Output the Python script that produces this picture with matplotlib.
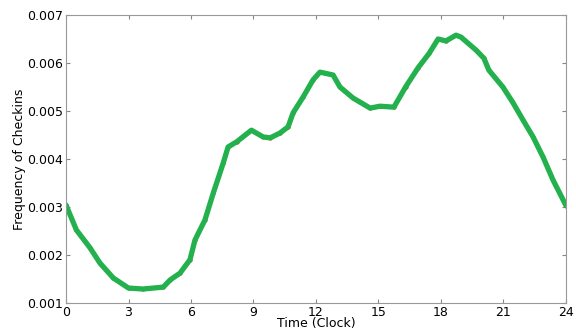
import matplotlib
matplotlib.use('Agg')
import matplotlib.pyplot as plt

# hour of day and checkin frequency
hours = [0.0, 0.5, 1.15, 1.63, 2.27, 3.0, 3.7, 4.67, 5.0, 5.47, 5.95, 6.19,
         6.67, 7.07, 7.55, 7.78, 8.2, 8.9, 9.46, 9.8, 10.27, 10.66, 10.9,
         11.38, 11.86, 12.19, 12.82, 13.15, 13.78, 14.6, 15.07, 15.74, 16.3,
         16.9, 17.43, 17.86, 18.24, 18.72, 18.96, 19.68, 20.06, 20.3, 20.97,
         21.46, 21.94, 22.42, 22.9, 23.38, 24.0]
freq = [0.00304, 0.00252, 0.00215, 0.00183, 0.00152, 0.00131, 0.00129,
        0.00133, 0.00148, 0.00162, 0.00190, 0.00231, 0.00273, 0.00329,
        0.00392, 0.00425, 0.00436, 0.00460, 0.00446, 0.00444, 0.00454,
        0.00467, 0.00496, 0.00529, 0.00565, 0.00581, 0.00575, 0.00550,
        0.00527, 0.00506, 0.00510, 0.00508, 0.00550, 0.00590, 0.00620,
        0.00650, 0.00646, 0.00658, 0.00654, 0.00627, 0.00610, 0.00585,
        0.00550, 0.00517, 0.00481, 0.00446, 0.00404, 0.00356, 0.00303]

xticks = [0, 3, 6, 9, 12, 15, 18, 21, 24]
yticks = [0.001, 0.002, 0.003, 0.004, 0.005, 0.006, 0.007]

fig = plt.figure(figsize=(5.76, 3.34), dpi=100)
ax = fig.add_axes([0.1146, 0.093, 0.868, 0.862])

ax.plot(hours, freq, '.', color='#d62728', markersize=4)
ax.plot(hours, freq, '-', color='#22b14c', linewidth=3.8, solid_capstyle='round')

ax.set_xlim(0, 24)
ax.set_ylim(0.001, 0.007)
ax.set_xticks(xticks)
ax.set_yticks(yticks)
ax.set_yticklabels(['%.3f' % v for v in yticks])
ax.tick_params(direction='in', top=True, right=True, labelsize=9,
               color='#888888', length=3, pad=2)
for s in ax.spines.values():
    s.set_color('#999999')

ax.set_xlabel('Time (Clock)', fontsize=9, labelpad=-1)
ax.set_ylabel('Frequency of Checkins', fontsize=9, labelpad=1)

plt.savefig('out.png', dpi=100)
